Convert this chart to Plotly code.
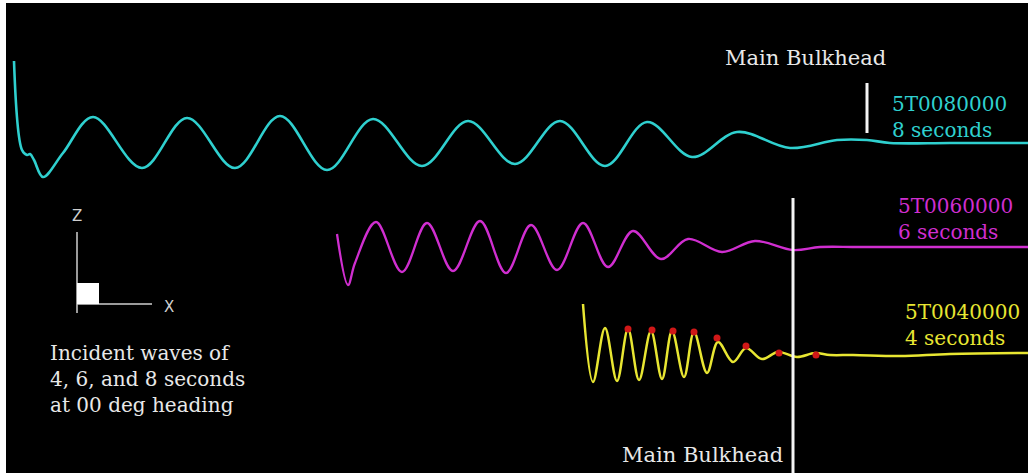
import plotly.graph_objects as go

# ---- data (x = along-ship position, y = screen elevation, downward positive) ----
cyan_x = [14, 22, 27, 30, 34, 43, 63, 93, 142, 187, 235, 280, 327, 373, 422, 468, 515, 560, 605, 647, 692, 737, 790, 837, 867, 890, 950, 1028]
cyan_y = [61, 150, 155, 154, 160, 177, 153, 117, 168, 118, 168, 116, 170, 119, 166, 121, 164, 121, 166, 122, 157, 132, 148, 140, 140, 143, 143, 143]

mag_x = [337, 348, 355, 376, 402, 427, 453, 480, 506, 531, 557, 583, 608, 633, 661, 688, 722, 755, 793, 820, 860, 1028]
mag_y = [234, 285, 263, 222, 272, 223, 271, 221, 273, 225, 270, 223, 267, 231, 259, 239, 252, 241, 250, 247, 247, 247]

yel_x = [583, 593, 605, 617, 628, 639, 651, 662, 672, 684, 694, 707, 718, 733, 746, 762, 778, 797, 815, 830, 853, 900, 950, 1028]
yel_y = [304, 382, 328, 381, 329, 380, 331, 379, 331, 377, 332, 373, 342, 362, 348, 359, 352, 357, 353, 355, 355, 356, 354, 353]

dot_x = [628, 652, 673, 694, 717, 746, 779, 816]
dot_y = [329, 330, 331, 332, 338, 346, 353, 355]

series_ids = ["5T0080000", "5T0060000", "5T0040000"]
series_periods = ["8 seconds", "6 seconds", "4 seconds"]
label_x = [890, 896, 903]
label_y = [117, 219, 325]

bulkhead_x = [867, 793]
bulkhead_top = [83, 198]
bulkhead_bottom = [133, 473]
bulkhead_text = "Main Bulkhead"

caption_lines = ["Incident waves of", "4, 6, and 8 seconds", "at 00 deg heading"]

# triad (decoration)
triad_z = ([77, 77], [232, 313])
triad_x = ([77, 152], [304, 304])

# ---- styles ----
CYAN = "#2fd0cf"
MAG = "#d02ed0"
YEL = "#e8e632"
WHITE = "#e8e8e8"
SERIF = "DejaVu Serif, serif"

fig = go.Figure()

for xs, ys, col, w in [(cyan_x, cyan_y, CYAN, 2.6), (mag_x, mag_y, MAG, 2.3), (yel_x, yel_y, YEL, 2.5)]:
    fig.add_trace(go.Scatter(x=xs, y=ys, mode="lines", line=dict(color=col, width=w, shape="spline", smoothing=1.0),
                             hoverinfo="skip", showlegend=False))

fig.add_trace(go.Scatter(x=dot_x, y=dot_y, mode="markers", marker=dict(color="#d01818", size=7),
                         hoverinfo="skip", showlegend=False))

# bulkhead lines
for bx, bt, bb in zip(bulkhead_x, bulkhead_top, bulkhead_bottom):
    fig.add_trace(go.Scatter(x=[bx, bx], y=[bt, bb], mode="lines", line=dict(color="#f4f4f4", width=3),
                             hoverinfo="skip", showlegend=False))

# triad
for tx, ty in [triad_z, triad_x]:
    fig.add_trace(go.Scatter(x=tx, y=ty, mode="lines", line=dict(color="#cfcfcf", width=1.5),
                             hoverinfo="skip", showlegend=False))
fig.add_shape(type="rect", x0=77, x1=99, y0=283, y1=304, fillcolor="white", line=dict(width=0))

annotations = []
for sid, per, lx, ly, col in zip(series_ids, series_periods, label_x, label_y, [CYAN, MAG, YEL]):
    annotations.append(dict(x=lx, y=ly, text=sid + "<br>" + per, xanchor="left", yanchor="middle", align="left",
                            showarrow=False, font=dict(family=SERIF, size=20, color=col)))

annotations.append(dict(x=805, y=58, text=bulkhead_text, xanchor="center", yanchor="middle", showarrow=False,
                        font=dict(family=SERIF, size=21, color=WHITE)))
annotations.append(dict(x=702, y=455, text=bulkhead_text, xanchor="center", yanchor="middle", showarrow=False,
                        font=dict(family=SERIF, size=21, color=WHITE)))

annotations.append(dict(x=48, y=379, text="<br>".join(caption_lines), xanchor="left", yanchor="middle",
                        align="left", showarrow=False, font=dict(family=SERIF, size=20, color=WHITE)))

annotations.append(dict(x=77, y=216, text="Z", xanchor="center", yanchor="middle", showarrow=False,
                        font=dict(family="DejaVu Sans, Arial, sans-serif", size=15, color="#cfcfcf")))
annotations.append(dict(x=169, y=307, text="X", xanchor="center", yanchor="middle", showarrow=False,
                        font=dict(family="DejaVu Sans, Arial, sans-serif", size=15, color="#cfcfcf")))

fig.update_layout(
    width=1028, height=473,
    margin=dict(l=6, r=0, t=3, b=0),
    paper_bgcolor="white",
    plot_bgcolor="black",
    xaxis=dict(range=[6, 1028], visible=False, fixedrange=True),
    yaxis=dict(range=[473, 3], visible=False, fixedrange=True),
    annotations=annotations,
    showlegend=False,
)

fig.write_html("out.html", config={"displayModeBar": False},
               post_script="document.body.style.margin='0';document.body.style.overflow='hidden';")
